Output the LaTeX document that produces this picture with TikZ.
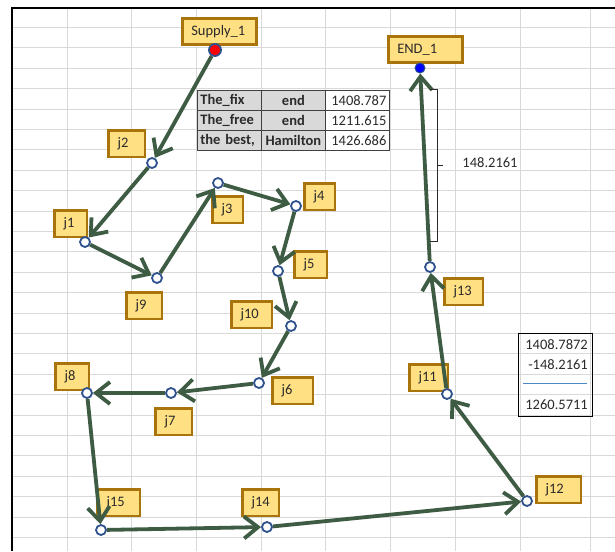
\documentclass[tikz,border=0pt]{standalone}
\usepackage{fontspec}
\setmainfont{Carlito}
\usetikzlibrary{arrows.meta}
\definecolor{routegreen}{HTML}{3E5B44}
\definecolor{ptblue}{HTML}{2F528F}
\definecolor{boxfill}{HTML}{FFE083}
\definecolor{boxedge}{HTML}{A9740B}
\definecolor{gridgray}{HTML}{D9D9D9}
\definecolor{cellgray}{HTML}{D9D9D9}
\definecolor{tabline}{HTML}{404040}
\definecolor{inkdark}{HTML}{2B2B2B}
\definecolor{sumblue}{HTML}{4F86C6}
\newcommand\lblfont{\fontsize{14.5}{16}\selectfont}

\begin{document}
\begin{tikzpicture}[x=1pt, y=-1pt,
  lbl/.style={draw=boxedge, fill=boxfill, line width=2.6pt, anchor=north west, inner xsep=9pt, inner ysep=0pt, minimum height=26.4pt, text width=#1, align=left, font=\lblfont, text=inkdark},
  pt/.style={circle, draw=ptblue, fill=white, line width=1.8pt, minimum size=10pt, inner sep=0pt},
  route/.style={draw=routegreen, line width=3.8pt, -{Straight Barb[length=14pt, width=22pt]}},
  gridln/.style={draw=gridgray, line width=0.8pt},
  cell/.style={draw=tabline, line width=0.8pt, anchor=north west, minimum height=20pt, text width=58pt, inner xsep=3pt, inner ysep=0pt, font=\lblfont, text=inkdark},
  numtxt/.style={font=\lblfont, text=inkdark, inner sep=1pt},
  bracket/.style={draw=inkdark, line width=0.9pt}
]
\useasboundingbox (0,0) rectangle (615,551);
\fill[white] (0,0) rectangle (615,551);

% ---- sheet grid ----
\foreach \x in {67,131,196,261,325,390,455,520,590}
  \draw[gridln] (\x,8) -- (\x,551);
\foreach \k in {1,...,26}
  \draw[gridln] (12,{7+20.4*\k}) -- (615,{7+20.4*\k});
\draw[line width=1.6pt] (12,551) -- (12,8) -- (615,8);

% ---- table of totals ----
\foreach \r/\ca/\cb/\cc in {0/The\_fix/end/1408.787, 1/The\_free/end/1211.615, 2/{the best,}/Hamilton/1426.686} {
  \node[cell, fill=cellgray, align=left, font=\lblfont\bfseries] (ta\r) at (197,{90+20*\r}) {\ca};
  \node[cell, fill=cellgray, align=center, font=\lblfont\bfseries] (tb\r) at (261,{90+20*\r}) {\cb};
  \node[cell, fill=white, align=right] (tc\r) at (325,{90+20*\r}) {\cc};
}

% ---- source and sink ----
\node[lbl=56pt] (sup) at (181,17) {Supply\_1};
\node[lbl=56pt] (fin) at (387,35) {END\_1};
\node[circle, draw=ptblue, fill=red, line width=1.8pt, minimum size=12pt, inner sep=0pt] (supdot) at (215,50) {};
\node[circle, draw=ptblue, fill=blue, line width=1pt, minimum size=10pt, inner sep=0pt] (enddot) at (420,68) {};

% ---- junction labels ----
\foreach \n/\x/\y/\w in {j2/106/128/18.4, j1/52/208/14.4, j9/124/290/17.4, j3/210/194/12.4,
    j4/302/181/12.4, j5/292/249/14.4, j10/229/299/22.4, j8/53/361/15.4, j6/270/375/22.4,
    j7/153/406/18.4, j15/95/487/24.4, j14/240/487/18.4, j11/407/362/20.4, j12/534/474/26.4,
    j13/442/276/20.4}
  \node[lbl=\w pt] (\n) at ({\x+1.3},{\y+1.3}) {\n};

% ---- junction points ----
\foreach \n/\x/\y in {c2/152/163, c1/85/242, c9/157/278, c3/218/183, c4/296/206, c5/278/271,
    c10/291/326, c6/259/383, c7/171/393, c8/87/393, c15/101/530, c14/267/527,
    c12/527/501, c11/447/394, c13/430/267}
  \node[pt] (\n) at (\x,\y) {};

% ---- the route ----
\foreach \a/\b in {supdot/c2, c2/c1, c1/c9, c9/c3, c3/c4, c4/c5, c5/c10, c10/c6, c6/c7,
    c7/c8, c8/c15, c15/c14, c14/c12, c12/c11, c11/c13, c13/enddot}
  \draw[route] (\a) -- (\b);

% ---- gap between fixed and free end ----
\draw[bracket] (430,89) -- (437,89) -- (437,241) -- (430,241);
\draw[bracket] (437,165) -- (443,165);
\node[numtxt] (gap) at (490,163) {148.2161};

% ---- subtraction box ----
\node[draw=black, line width=1.4pt, anchor=north west, minimum width=74pt, minimum height=83pt, inner sep=0pt] (diffbox) at (518,333) {};
\node[numtxt, anchor=east] (dfix) at (589,345) {1408.7872};
\node[numtxt, anchor=east] (dgap) at (589,365) {-148.2161};
\draw[sumblue, line width=0.7pt] (523,383) -- (587,383);
\node[numtxt, anchor=east] (dres) at (589,405) {1260.5711};
\end{tikzpicture}
\end{document}
